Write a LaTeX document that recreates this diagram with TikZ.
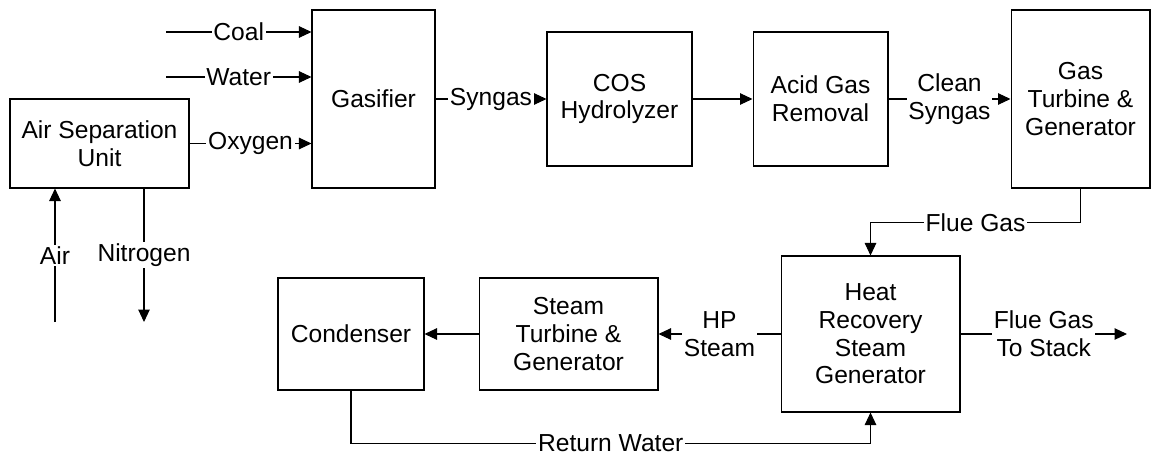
\documentclass[tikz,border=0pt]{standalone}
\usepackage{fontspec}
\setmainfont{Liberation Sans}
\usetikzlibrary{arrows.meta,positioning}

\begin{document}
\begin{tikzpicture}[x=0.02cm,y=-0.02cm,line width=0.6pt,
  font=\fontsize{14}{15.8}\selectfont,
  >={Triangle[length=0.25cm,width=0.23cm]},
  box/.style={draw,align=center,inner sep=0pt},
  lbl/.style={fill=white,align=center,inner sep=1pt}]
  \useasboundingbox (0,0) rectangle (1151,456);

  \node[box,minimum width=3.58cm,minimum height=1.78cm] (asu) at (99.5,143.5) {Air Separation\\Unit};
  \node[box,minimum width=2.46cm,minimum height=3.56cm] (gasifier) at (373.5,99) {Gasifier};
  \node[box,minimum width=2.9cm,minimum height=2.68cm] (cos) at (619.5,99) {COS\\Hydrolyzer};
  \node[box,minimum width=2.7cm,minimum height=2.68cm] (agr) at (820.5,99) {Acid Gas\\Removal};
  \node[box,minimum width=2.78cm,minimum height=3.56cm] (gt) at (1080.5,99) {Gas\\Turbine \&\\Generator};
  \node[box,minimum width=3.58cm,minimum height=3.12cm] (hrsg) at (870.5,334) {Heat\\Recovery\\Steam\\Generator};
  \node[box,minimum width=3.58cm,minimum height=2.24cm] (st) at (568.5,334) {Steam\\Turbine \&\\Generator};
  \node[box,minimum width=2.92cm,minimum height=2.24cm] (cond) at (351,334) {Condenser};

  \coordinate (coalin) at (166,32);
  \coordinate (waterin) at (166,77);
  \coordinate (airin) at (55,322);
  \coordinate (n2out) at (144,322);
  \coordinate (stack) at (1127,334);

  \draw[->] (coalin) -- node[lbl]{Coal} (coalin -| gasifier.west);
  \draw[->] (waterin) -- node[lbl]{Water} (waterin -| gasifier.west);
  \draw[->] (asu.east) -- node[lbl]{Oxygen} (asu.east -| gasifier.west);
  \draw[->] (airin) -- node[lbl]{Air} (airin |- asu.south);
  \draw[->] (n2out |- asu.south) -- node[lbl]{Nitrogen} (n2out);

  \draw[->] (gasifier.east) -- node[lbl]{Syngas} (cos.west);
  \draw[->] (cos.east) -- (agr.west);
  \draw[->] (agr.east) -- node[lbl]{Clean\\Syngas} (gt.west);
  \draw[->] (gt.south) -- ++(0,34) -| node[lbl,pos=0.25]{Flue Gas} (hrsg.north);

  \draw[->] (hrsg.west) -- node[lbl]{HP\\Steam} (st.east);
  \draw[->] (st.west) -- (cond.east);
  \draw[->] (hrsg.east) -- node[lbl]{Flue Gas\\To Stack} (stack);
  \draw[->] (cond.south) -- ++(0,53) -| node[lbl,pos=0.25]{Return Water} (hrsg.south);
\end{tikzpicture}
\end{document}
